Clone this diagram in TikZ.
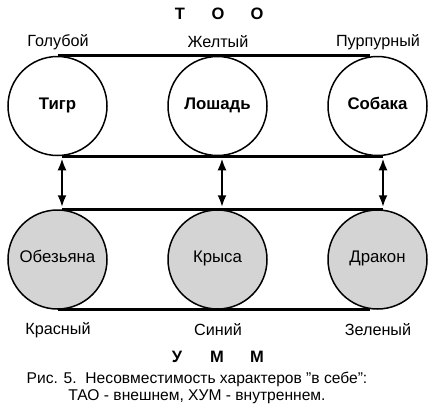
\documentclass[tikz,border=0pt]{standalone}
\usepackage{fontspec}
\setmainfont{Liberation Sans}
\usetikzlibrary{arrows.meta}
\begin{document}
\begin{tikzpicture}[x=1pt,y=-1pt,
  animal/.style={circle,draw,line width=1.5pt,minimum size=99pt,inner sep=0pt,text height=1.6ex,text depth=0.3ex},
  toprow/.style={animal,font=\fontsize{16.8}{18}\selectfont\bfseries},
  botrow/.style={animal,fill=black!17,font=\fontsize{16.8}{18}\selectfont},
  colorlbl/.style={font=\fontsize{16.2}{18}\selectfont},
  letter/.style={font=\fontsize{16.5}{18}\selectfont\bfseries},
  bar/.style={line width=2.6pt},
  dbl/.style={line width=2.8pt,{Latex[length=12pt,width=9pt]}-{Latex[length=12pt,width=9pt]}}]
\useasboundingbox (0,0) rectangle (436,410);
% letters
\node[letter] (l1) at (180,14) {Т};
\node[letter] (l2) at (218,14) {О};
\node[letter] (l3) at (257,14) {О};
\node[letter] (m1) at (177,357) {У};
\node[letter] (m2) at (217,357) {М};
\node[letter] (m3) at (257,357) {М};
% colour labels
\node[colorlbl] (c1) at (58,42) {Голубой};
\node[colorlbl] (c2) at (218,42) {Желтый};
\node[colorlbl] (c3) at (378,42) {Пурпурный};
\node[colorlbl] (d1) at (58,330) {Красный};
\node[colorlbl] (d2) at (218,330) {Синий};
\node[colorlbl] (d3) at (378,330) {Зеленый};
% circles
\node[toprow] (t1) at (57.5,106) {Тигр};
\node[toprow] (t2) at (217.5,106) {Лошадь};
\node[toprow] (t3) at (377.5,106) {Собака};
\node[botrow] (b1) at (57.5,259.5) {Обезьяна};
\node[botrow] (b2) at (217.5,259.5) {Крыса};
\node[botrow] (b3) at (377.5,259.5) {Дракон};
% bars
\draw[bar] (t1.north) -- ([xshift=-8pt]t3.north);
\draw[bar] ([xshift=4.5pt]t1.south) -- ([xshift=5.5pt]t3.south);
\draw[bar] ([xshift=4.5pt]b1.north) -- ([xshift=5.5pt]b3.north);
\draw[bar] (b1.south) -- ([xshift=-8pt]b3.south);
% arrows
\draw[dbl,shorten <=2pt,shorten >=2pt] ([xshift=4.5pt]t1.south) -- ([xshift=4.5pt]b1.north);
\draw[dbl,shorten <=2pt,shorten >=2pt] ([xshift=4.5pt]t2.south) -- ([xshift=4.5pt]b2.north);
\draw[dbl,shorten <=2pt,shorten >=2pt] ([xshift=5.5pt]t3.south) -- ([xshift=5.5pt]b3.north);
% caption
\node[align=center,font=\fontsize{15.6}{17.5}\selectfont] (cap) at (197,388)
  {Рис. 5.\ \ Несовместимость характеров "в себе":\\ТАО - внешнем, ХУМ - внутреннем.};
\end{tikzpicture}
\end{document}
